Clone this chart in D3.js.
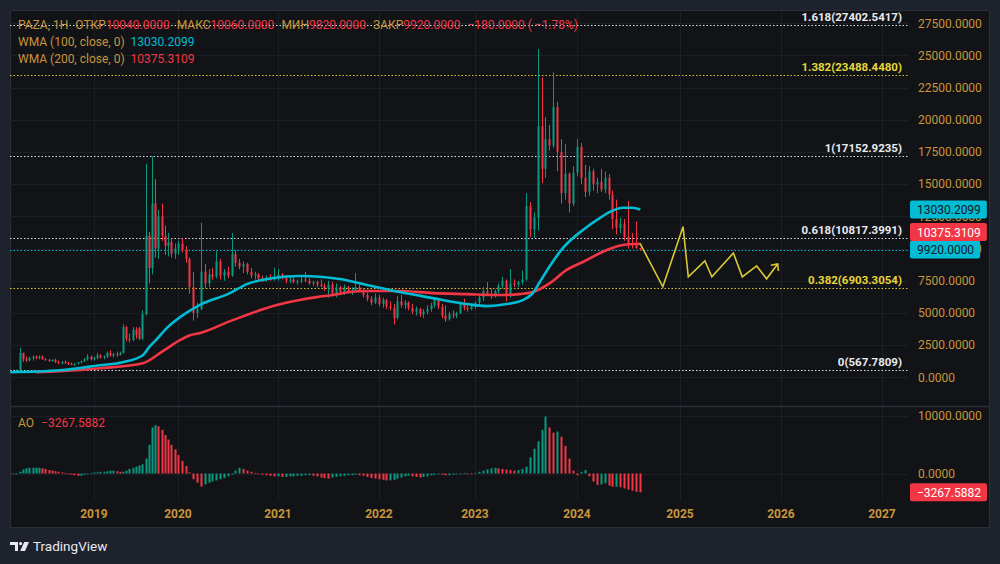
<!DOCTYPE html>
<html>
<head>
<meta charset="utf-8">
<script src="https://cdn.jsdelivr.net/npm/d3@7"></script>
<style>
html, body { margin: 0; padding: 0; background: #1e222d; }
svg { display: block; font-family: Roboto, "Noto Sans", sans-serif; }
</style>
</head>
<body>
<svg id="chart" width="1000" height="564"></svg>
<script>
// biweekly candles per year, [open, high, low, close] in thousands
const candles2018 = [[0.4,0.5,0.35,0.45],[0.45,0.6,0.4,0.5],[0.5,0.6,0.45,0.55],[0.55,2.3,0.5,1.9],[1.9,1.9,1.2,1.4],[1.4,1.6,1.2,1.3],[1.3,1.6,1.25,1.5],[1.5,1.7,1.3,1.6],[1.6,1.7,1.4,1.5],[1.5,1.7,1.4,1.6],[1.6,1.7,1.35,1.4],[1.4,1.5,1.3,1.35],[1.35,1.45,1.2,1.3],[1.3,1.4,1.2,1.35],[1.35,1.45,1.1,1.2],[1.2,1.3,1.0,1.1],[1.1,1.25,1.0,1.2],[1.2,1.3,1.05,1.1],[1.1,1.2,0.95,1.05],[1.05,1.15,0.95,1.0],[1.0,1.1,0.9,1.05],[1.05,1.2,1.0,1.15],[1.15,1.3,1.1,1.25],[1.25,1.5,1.2,1.4],[1.4,1.8,1.3,1.6],[1.6,1.7,1.3,1.4]];
const candles2019 = [[1.4,1.6,1.3,1.5],[1.5,1.9,1.4,1.7],[1.7,1.8,1.45,1.55],[1.55,1.7,1.4,1.6],[1.6,2.0,1.5,1.9],[1.9,2.1,1.6,1.7],[1.7,1.9,1.55,1.8],[1.8,2.0,1.6,1.75],[1.75,2.0,1.7,1.9],[1.9,4.1,1.85,3.9],[3.9,4.0,2.8,3.0],[3.0,3.4,2.7,2.9],[2.9,3.9,2.8,3.7],[3.7,3.9,3.0,3.3],[3.8,3.9,2.9,3.0],[3.0,5.2,2.9,4.9],[4.9,16.6,4.8,11.0],[11.0,11.3,7.3,8.5],[8.5,17.15,8.0,13.5],[13.5,15.4,9.3,10.0],[10.0,13.0,9.2,12.5],[12.5,13.5,10.6,11.0],[11.0,11.8,9.5,10.2],[10.2,11.2,9.4,10.5],[10.5,10.8,9.3,9.6],[9.6,10.4,9.2,10.0]];
const candles2020 = [[10.0,10.6,9.5,10.4],[10.4,10.8,9.7,9.9],[9.9,10.2,8.9,9.2],[9.2,9.3,6.5,7.0],[7.0,8.2,4.4,5.0],[5.0,5.8,4.6,5.3],[5.3,12.0,5.2,8.2],[8.2,8.8,6.9,7.3],[7.3,8.4,7.0,8.0],[8.0,8.5,7.6,7.8],[7.8,9.8,7.7,9.0],[9.0,9.2,7.6,7.9],[7.9,8.4,7.5,8.2],[8.2,8.6,7.7,7.9],[7.9,11.2,7.8,9.6],[9.6,9.9,8.6,8.9],[8.9,9.2,8.4,8.6],[8.6,9.0,8.1,8.8],[8.8,8.9,8.0,8.2],[8.2,8.5,7.7,7.9],[7.9,8.2,7.6,8.0],[8.0,8.1,7.5,7.7],[7.7,7.9,7.4,7.6],[7.6,7.9,7.4,7.8],[7.8,8.0,7.5,7.6],[7.6,8.5,7.5,7.7]];
const candles2021 = [[7.7,8.4,7.5,8.0],[8.0,8.1,7.6,7.7],[7.7,7.9,7.3,7.5],[7.5,7.8,7.3,7.6],[7.6,7.8,7.3,7.4],[7.4,7.6,7.2,7.5],[7.5,7.8,7.3,7.6],[7.6,8.2,7.4,7.5],[7.5,7.7,7.2,7.3],[7.3,7.5,7.1,7.4],[7.4,7.5,7.0,7.2],[7.2,7.6,7.0,7.1],[7.1,7.3,6.7,6.9],[6.9,7.5,6.2,7.2],[7.2,7.4,6.3,6.5],[6.5,7.3,6.2,7.0],[7.0,7.1,6.4,6.6],[6.6,7.2,6.4,7.0],[7.0,7.1,6.5,6.7],[6.7,7.0,6.4,6.8],[6.8,8.1,6.6,7.0],[7.0,7.2,6.6,6.7],[6.7,6.9,6.2,6.4],[6.4,6.6,5.9,6.1],[6.1,6.3,5.6,5.8],[5.8,6.5,5.7,6.2]];
const candles2022 = [[6.2,6.4,5.5,5.7],[5.7,6.2,5.4,6.0],[6.0,6.1,5.3,5.5],[5.5,5.9,5.2,5.4],[5.4,5.7,4.1,4.6],[4.6,6.3,4.5,5.9],[5.9,6.4,5.4,5.6],[5.6,6.0,5.3,5.8],[5.8,5.9,5.2,5.4],[5.4,5.7,4.9,5.1],[5.1,5.5,4.8,5.3],[5.3,5.4,4.7,4.9],[4.9,5.3,4.6,5.1],[5.1,5.6,4.9,5.3],[5.3,5.8,5.1,5.6],[5.6,6.2,5.4,6.0],[6.0,6.1,5.3,5.5],[5.5,5.7,4.6,4.8],[4.8,5.6,4.3,4.5],[4.5,5.1,4.4,4.9],[4.9,5.2,4.6,4.8],[4.8,5.1,4.6,5.0],[5.0,5.9,4.9,5.7],[5.7,6.1,5.2,5.4],[5.4,5.6,5.1,5.3],[5.3,5.7,5.2,5.5]];
const candles2023 = [[5.5,5.9,5.3,5.8],[5.8,6.4,5.6,6.2],[6.2,7.0,5.9,6.7],[6.7,7.4,6.3,6.5],[6.5,6.9,6.1,6.4],[6.4,6.8,6.2,6.7],[6.7,7.3,6.5,7.1],[7.1,7.8,6.9,7.5],[7.5,7.6,5.9,6.3],[6.3,8.4,6.2,7.3],[7.3,7.6,7.0,7.2],[7.2,7.5,7.0,7.4],[7.4,8.3,7.2,7.6],[7.6,14.3,7.5,13.3],[13.3,13.6,10.9,11.5],[11.5,12.8,10.8,12.4],[12.4,25.5,11.4,19.5],[19.5,23.3,15.1,16.2],[16.2,20.2,15.5,18.5],[18.5,19.6,17.6,18.0],[18.0,23.7,17.8,21.0],[21.0,21.4,16.0,17.5],[17.5,18.5,13.5,14.3],[14.3,18.1,13.8,15.8],[15.8,15.9,12.8,13.5],[13.5,16.4,13.3,15.9]];
const candles2024 = [[15.9,18.5,15.6,17.9],[17.9,18.2,15.0,15.5],[15.5,16.5,14.0,14.4],[14.4,16.4,14.1,16.0],[16.0,16.2,14.5,15.0],[15.0,15.5,14.3,15.2],[15.2,16.2,14.4,14.6],[14.6,16.0,14.3,15.5],[15.5,15.8,13.8,14.2],[14.2,14.5,11.5,12.3],[12.3,13.8,11.1,11.6],[11.6,12.4,11.2,11.9],[11.9,12.3,10.6,10.9],[10.9,13.7,10.0,10.4],[10.4,11.2,10.0,10.3],[10.3,12.1,10.0,10.04],[10.04,10.06,9.82,9.92]];

// Awesome Oscillator, same dates as the candles, in thousands
const ao2018 = [-0.1,-0.1,-0.1,0.3,0.7,0.9,1.0,1.0,1.0,1.0,0.9,0.8,0.6,0.5,0.4,0.3,0.2,0.1,0.0,-0.2,-0.3,-0.4,-0.4,-0.2,-0.1,0.1];
const ao2019 = [0.2,0.2,0.3,0.3,0.4,0.5,0.5,0.4,0.3,0.3,0.5,0.8,1.0,1.2,1.4,1.6,2.6,5.0,8.0,8.4,8.2,7.6,6.7,5.9,5.0,4.2];
const ao2020 = [3.2,2.2,1.3,0.2,-1.0,-1.6,-2.3,-1.9,-1.6,-1.4,-1.2,-1.0,-0.8,-0.5,-0.2,0.5,1.0,0.8,0.5,0.3,0.1,0.0,-0.2,-0.3,-0.4,-0.5];
const ao2021 = [-0.5,-0.6,-0.6,-0.5,-0.5,-0.4,-0.4,-0.3,-0.3,-0.4,-0.5,-0.7,-0.8,-0.9,-0.7,-0.6,-0.5,-0.4,-0.3,-0.3,-0.2,-0.3,-0.4,-0.6,-0.8,-0.9];
const ao2022 = [-1.0,-1.1,-1.2,-1.2,-1.1,-0.9,-0.7,-0.5,-0.4,-0.5,-0.6,-0.7,-0.6,-0.5,-0.3,-0.2,-0.1,-0.2,-0.3,-0.3,-0.2,-0.1,0.0,0.1,0.0,-0.1];
const ao2023 = [0.1,0.3,0.5,0.7,0.9,1.0,0.9,0.8,0.7,0.6,0.5,0.6,0.8,1.2,2.8,4.3,5.6,7.6,9.9,8.0,7.1,7.3,6.4,4.8,2.6,0.5];
const ao2024 = [-0.3,0.3,0.6,-0.5,-1.4,-2.0,-1.9,-1.7,-2.1,-2.3,-2.3,-2.4,-2.6,-2.8,-3.0,-3.2,-3.2676];

const wma100 = [["2018-01-05",390],["2018-08-05",545],["2019-01-27",935],["2019-05-06",1170],["2019-08-01",1710],["2019-09-01",2415],["2019-10-01",2960],["2019-11-13",3820],["2020-01-19",4830],["2020-03-20",5610],["2020-07-09",6540],["2020-09-09",7240],["2020-12-14",7710],["2021-03-20",7870],["2021-06-12",7790],["2021-08-13",7630],["2021-11-18",7170],["2022-03-20",6620],["2022-07-24",6150],["2022-12-01",5690],["2023-02-13",5530],["2023-04-25",5690],["2023-06-21",6000],["2023-07-27",6540],["2023-08-21",7400],["2023-09-26",8650],["2023-11-12",10050],["2024-01-22",11450],["2024-03-23",12390],["2024-04-27",12850],["2024-06-13",13170],["2024-07-15",13170],["2024-08-13",13030]];
const wma200 = [["2018-04-22",390],["2018-08-05",470],["2019-01-27",700],["2019-08-01",1090],["2019-10-27",2030],["2020-01-08",2880],["2020-02-14",3270],["2020-03-20",3430],["2020-07-19",4440],["2020-12-28",5610],["2021-03-20",6000],["2021-05-21",6230],["2021-07-18",6390],["2021-09-18",6620],["2021-11-18",6700],["2022-03-20",6700],["2022-07-24",6540],["2022-12-01",6460],["2023-03-31",6390],["2023-06-10",6460],["2023-07-27",6620],["2023-09-26",7320],["2023-11-25",8340],["2024-01-22",8960],["2024-04-16",9890],["2024-06-13",10280],["2024-08-13",10375]];

// hand-drawn forecast path
const forecast = [["2024-08-12",10400],["2024-11-01",7030],["2025-01-12",11700],["2025-01-31",7800],["2025-04-01",9050],["2025-04-26",7800],["2025-07-13",9650],["2025-08-14",7800],["2025-10-05",8650],["2025-11-10",7650],["2025-12-20",8800]];

const fibRatios = [1.618, 1.382, 1, 0.618, 0.382, 0];
const fibPrices = [27402.5417, 23488.4480, 17152.9235, 10817.3991, 6903.3054, 567.7809];

const priceTicks = [0, 2500, 5000, 7500, 10000, 12500, 15000, 17500, 20000, 22500, 25000, 27500];
const aoTicks = [0, 10000];
const yearTicks = [2019, 2020, 2021, 2022, 2023, 2024, 2025, 2026, 2027];

const legendOhlc = [["ОТКР", 10040], ["МАКС", 10060], ["МИН", 9820], ["ЗАКР", 9920]];
const lastChange = -180;
const lastChangePct = -1.78;
const lastClose = 9920;
const wmaLast = [13030.2099, 10375.3109];
const aoLast = -3267.5882;

const GOLD = "#c8963c", GREEN = "#089981", RED = "#f23645", CYAN = "#00bcd4";
const WHITE = "#d8dbe2", YELLOW = "#d9c834", GRID = "#1c1f26", BORDER = "#2a2e39";

const svg = d3.select("#chart");
const paneL = 10, paneR = 908, mainT = 11, mainB = 406, aoB = 500;

// time axis: bars are spaced per bar like TradingView, so each year gets its own stretch
const x = d3.scaleUtc()
    .domain([2018, 2019, 2020, 2021, 2022, 2023, 2024, 2025, 2026, 2027].map(yr => new Date(Date.UTC(yr, 0, 1))).concat([new Date(Date.UTC(2027, 3, 1))]))
    .range([10, 94, 178, 278, 379, 475, 577, 680, 781, 882, 907]);
const y = d3.scaleLinear().domain([0, 27500]).range([377.3, 23.3]);
const yAo = d3.scaleLinear().domain([0, 10000]).range([473.5, 416]);
const fmt = v => (v < 0 ? "\u2212" : "") + Math.abs(v).toFixed(4);

const rows = [];
[[2018, candles2018, ao2018], [2019, candles2019, ao2019], [2020, candles2020, ao2020],
 [2021, candles2021, ao2021], [2022, candles2022, ao2022], [2023, candles2023, ao2023],
 [2024, candles2024, ao2024]].forEach(([yr, cs, ao]) => {
    cs.forEach((c, k) => rows.push({
        date: new Date(Date.UTC(yr, 0, 1 + 14 * k)),
        o: c[0] * 1000, h: c[1] * 1000, l: c[2] * 1000, c: c[3] * 1000,
        ao: ao[k] * 1000
    }));
});
rows.forEach((d, i) => { d.aoUp = i > 0 && d.ao >= rows[i - 1].ao; });

// frame
svg.append("rect").attr("x", 10.5).attr("y", 10.5).attr("width", 979).attr("height", 517)
    .attr("fill", "#121316").attr("stroke", BORDER);

const defs = svg.append("defs");
defs.append("clipPath").attr("id", "mainClip").append("rect")
    .attr("x", paneL).attr("y", mainT).attr("width", paneR - paneL).attr("height", mainB - mainT);
defs.append("clipPath").attr("id", "aoClip").append("rect")
    .attr("x", paneL).attr("y", mainB + 1).attr("width", paneR - paneL).attr("height", aoB - mainB - 1);

// grid
const grid = svg.append("g");
grid.selectAll(".vg").data(yearTicks).join("line")
    .attr("x1", d => Math.round(x(new Date(Date.UTC(d, 0, 1)))) + 0.5)
    .attr("x2", d => Math.round(x(new Date(Date.UTC(d, 0, 1)))) + 0.5)
    .attr("y1", mainT).attr("y2", aoB).attr("stroke", GRID);
grid.selectAll(".hg").data(priceTicks).join("line")
    .attr("x1", paneL).attr("x2", paneR)
    .attr("y1", d => Math.round(y(d)) + 0.5).attr("y2", d => Math.round(y(d)) + 0.5)
    .attr("stroke", GRID);
grid.selectAll(".ag").data(aoTicks).join("line")
    .attr("x1", paneL).attr("x2", paneR)
    .attr("y1", d => Math.round(yAo(d)) + 0.5).attr("y2", d => Math.round(yAo(d)) + 0.5)
    .attr("stroke", GRID);

// pane separator
svg.append("line").attr("x1", 10).attr("x2", 990).attr("y1", mainB + 0.5).attr("y2", mainB + 0.5)
    .attr("stroke", BORDER).attr("stroke-width", 1.5);

const main = svg.append("g").attr("clip-path", "url(#mainClip)");

// fibonacci levels
const fibs = fibRatios.map((r, i) => ({ r, p: fibPrices[i], col: (r === 1.382 || r === 0.382) ? YELLOW : WHITE }));
main.selectAll(".fib").data(fibs).join("line")
    .attr("x1", paneL).attr("x2", paneR)
    .attr("y1", d => Math.round(y(d.p)) + 0.5).attr("y2", d => Math.round(y(d.p)) + 0.5)
    .attr("stroke", d => d.col).attr("stroke-dasharray", "1.5,2");

// last price line
main.append("line").attr("x1", paneL).attr("x2", paneR)
    .attr("y1", Math.round(y(lastClose)) + 0.5).attr("y2", Math.round(y(lastClose)) + 0.5)
    .attr("stroke", CYAN).attr("stroke-dasharray", "1.5,2");

// candles
const cg = main.append("g");
cg.selectAll(".wick").data(rows).join("line")
    .attr("x1", d => Math.round(x(d.date)) + 0.5).attr("x2", d => Math.round(x(d.date)) + 0.5)
    .attr("y1", d => y(d.h)).attr("y2", d => y(d.l))
    .attr("stroke", d => d.c >= d.o ? GREEN : RED);
cg.selectAll(".body").data(rows).join("rect")
    .attr("x", d => Math.round(x(d.date)) - 0.5).attr("width", 2)
    .attr("y", d => y(Math.max(d.o, d.c)))
    .attr("height", d => Math.max(1, Math.abs(y(d.o) - y(d.c))))
    .attr("fill", d => d.c >= d.o ? GREEN : RED);

// WMA lines
const line = d3.line().x(d => x(new Date(d[0]))).y(d => y(d[1])).curve(d3.curveMonotoneX);
main.append("path").datum(wma200).attr("d", line).attr("fill", "none").attr("stroke", RED).attr("stroke-width", 2.6);
main.append("path").datum(wma100).attr("d", line).attr("fill", "none").attr("stroke", CYAN).attr("stroke-width", 2.6);

// forecast zigzag with arrow
const zig = forecast.map(d => [x(new Date(d[0])), y(d[1])]);
main.append("path").attr("d", d3.line()(zig)).attr("fill", "none").attr("stroke", YELLOW).attr("stroke-width", 1.6);
const [p1, p2] = zig.slice(-2);
const ang = Math.atan2(p2[1] - p1[1], p2[0] - p1[0]);
const arm = a => [p2[0] - 7 * Math.cos(ang + a), p2[1] - 7 * Math.sin(ang + a)];
main.append("path").attr("d", d3.line()([arm(0.75), p2, arm(-0.75)]))
    .attr("fill", "none").attr("stroke", YELLOW).attr("stroke-width", 1.6);

// fib labels
svg.selectAll(".fibl").data(fibs).join("text")
    .attr("x", 902).attr("y", d => Math.round(y(d.p)) - 4)
    .attr("text-anchor", "end").attr("font-size", 11.5).attr("font-weight", "bold")
    .attr("fill", d => d.col === YELLOW ? "#e6d53a" : "#e8eaef")
    .text(d => `${d.r}(${d.p.toFixed(4)})`);

// AO histogram
const ag = svg.append("g").attr("clip-path", "url(#aoClip)");
ag.selectAll("rect").data(rows).join("rect")
    .attr("x", d => Math.round(x(d.date)) - 0.5).attr("width", 2)
    .attr("y", d => Math.min(yAo(d.ao), yAo(0)))
    .attr("height", d => Math.max(0.8, Math.abs(yAo(d.ao) - yAo(0))))
    .attr("fill", d => d.aoUp ? GREEN : RED);

// price scale
svg.selectAll(".pt").data(priceTicks).join("text")
    .attr("x", 918).attr("y", d => y(d)).attr("dy", "0.35em")
    .attr("font-size", 12).attr("fill", GOLD).text(d => d.toFixed(4));
svg.selectAll(".at").data(aoTicks).join("text")
    .attr("x", 918).attr("y", d => yAo(d)).attr("dy", "0.35em")
    .attr("font-size", 12).attr("fill", GOLD).text(d => d.toFixed(4));

// time scale
svg.selectAll(".yt").data(yearTicks).join("text")
    .attr("x", d => x(new Date(Date.UTC(d, 0, 1)))).attr("y", 514).attr("dy", "0.35em")
    .attr("text-anchor", "middle").attr("font-size", 12).attr("font-weight", "bold")
    .attr("fill", GOLD).text(d => d);

// value badges, pushed apart when they overlap
function drawBadges(list) {
    list.sort((a, b) => b.cy - a.cy);
    list.forEach((b, i) => {
        if (i > 0 && list[i - 1].cy - b.cy < 17.5) b.cy = list[i - 1].cy - 17.5;
    });
    list.forEach(b => {
        const g = svg.append("g").attr("transform", `translate(910,${b.cy - 9})`);
        const rect = g.append("rect").attr("height", 18).attr("rx", 2).attr("fill", b.bg);
        const t = g.append("text").attr("x", 7).attr("y", 13.5).attr("font-size", 12)
            .attr("fill", b.fg).text(fmt(b.v));
        rect.attr("width", t.node().getComputedTextLength() + 13);
    });
}
drawBadges([
    { v: wmaLast[0], cy: y(wmaLast[0]), bg: CYAN, fg: "#131722" },
    { v: wmaLast[1], cy: y(wmaLast[1]), bg: RED, fg: "#ffffff" },
    { v: lastClose, cy: y(lastClose), bg: CYAN, fg: "#131722" }
]);
drawBadges([{ v: aoLast, cy: yAo(aoLast), bg: RED, fg: "#ffffff" }]);

// legend
const lg = svg.append("g").attr("font-size", 12);
const l1 = lg.append("text").attr("x", 18).attr("y", 29).attr("fill", GOLD);
l1.append("tspan").text("PAZA, 1Н");
legendOhlc.forEach(([k, v]) => {
    l1.append("tspan").attr("dx", 7).text(k);
    l1.append("tspan").attr("fill", RED).text(v.toFixed(4));
});
l1.append("tspan").attr("dx", 7).attr("fill", RED)
    .text(`${fmt(lastChange)} ( ${lastChangePct < 0 ? "\u2212" : ""}${Math.abs(lastChangePct).toFixed(2)}%)`);

[["WMA (100, close, 0)", wmaLast[0], CYAN], ["WMA (200, close, 0)", wmaLast[1], RED]].forEach(([name, v, col], i) => {
    const t = lg.append("text").attr("x", 18).attr("y", 46 + i * 16.5).attr("fill", GOLD);
    t.append("tspan").text(name);
    t.append("tspan").attr("dx", 6).attr("fill", col).text(v.toFixed(4));
});
const aoT = lg.append("text").attr("x", 18).attr("y", 427).attr("fill", GOLD);
aoT.append("tspan").text("AO");
aoT.append("tspan").attr("dx", 7).attr("fill", RED).text(fmt(aoLast));

// TradingView mark
const logo = svg.append("g").attr("transform", "translate(10,542)").attr("fill", "#e8eaef");
logo.append("path").attr("d", "M0 0H8V9H5V3H0Z");
logo.append("circle").attr("cx", 10.6).attr("cy", 1.6).attr("r", 1.6);
logo.append("path").attr("d", "M14.2 0H19L15 9H10.2Z");
svg.append("text").attr("x", 33).attr("y", 551).attr("font-size", 13.5)
    .attr("fill", "#e8eaef").text("TradingView");
</script>
</body>
</html>
